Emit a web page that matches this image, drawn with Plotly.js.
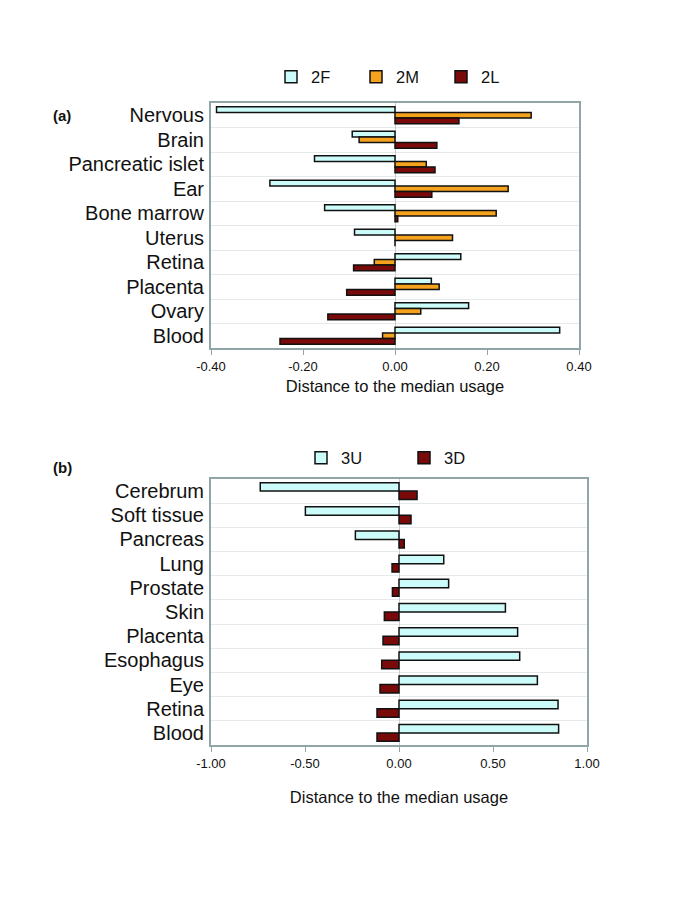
<!DOCTYPE html>
<html>
<head>
<meta charset="utf-8">
<script src="https://cdn.plot.ly/plotly-3.0.1.min.js"></script>
<style>
  body { margin: 0; background: #fff; }
  #chart { width: 685px; height: 912px; }
</style>
</head>
<body>
<div id="chart"></div>
<script>
// panel (a): tissues vs distance to median usage
const tissuesA = ['Nervous', 'Brain', 'Pancreatic islet', 'Ear', 'Bone marrow',
                  'Uterus', 'Retina', 'Placenta', 'Ovary', 'Blood'];
const vals2F = [-0.388, -0.093, -0.175, -0.272, -0.153, -0.088, 0.143, 0.079, 0.160, 0.358];
const vals2M = [0.296, -0.078, 0.068, 0.246, 0.220, 0.125, -0.045, 0.096, 0.056, -0.027];
const vals2L = [0.139, 0.091, 0.087, 0.080, 0.006, 0.000, -0.090, -0.105, -0.146, -0.250];

// panel (b)
const tissuesB = ['Cerebrum', 'Soft tissue', 'Pancreas', 'Lung', 'Prostate', 'Skin',
                  'Placenta', 'Esophagus', 'Eye', 'Retina', 'Blood'];
const vals3U = [-0.738, -0.498, -0.232, 0.238, 0.264, 0.566, 0.631, 0.642, 0.736, 0.846, 0.849];
const vals3D = [0.096, 0.064, 0.028, -0.037, -0.035, -0.078, -0.085, -0.092, -0.101, -0.117, -0.117];

const ticksA = [-0.4, -0.2, 0, 0.2, 0.4];
const ticksB = [-1, -0.5, 0, 0.5, 1];

const cyan = '#ccfcfa';
const orange = '#f5a21d';
const maroon = '#7a0a0a';
const frame = '#8fa5a8';

function bar(name, x, y, color, xa, ya, legend) {
    return {
        type: 'bar', orientation: 'h', name: name, x: x, y: y,
        xaxis: xa, yaxis: ya, legend: legend,
        marker: { color: color, line: { color: '#111', width: 1.5 } },
        hoverinfo: 'x+y'
    };
}

let data = [
    bar('2F', vals2F, tissuesA, cyan, 'x', 'y', 'legend'),
    bar('2M', vals2M, tissuesA, orange, 'x', 'y', 'legend'),
    bar('2L', vals2L, tissuesA, maroon, 'x', 'y', 'legend'),
    bar('3U', vals3U, tissuesB, cyan, 'x2', 'y2', 'legend2'),
    bar('3D', vals3D, tissuesB, maroon, 'x2', 'y2', 'legend2')
];

const W = 685, H = 912;
const font = { family: 'Liberation Sans, Arial, sans-serif', color: '#111' };

function xAxis(anchor, domain, range, ticks, standoff) {
    return {
        anchor: anchor, domain: domain, range: range,
        tickvals: ticks, ticktext: ticks.map(t => t.toFixed(2)),
        ticks: 'outside', ticklen: 5, tickcolor: frame,
        tickfont: { size: 13 },
        showline: true, linecolor: frame, linewidth: 2, mirror: true,
        showgrid: false,
        zeroline: true, zerolinecolor: '#c8cccc', zerolinewidth: 1,
        title: { text: 'Distance to the median usage', font: { size: 16.5 }, standoff: standoff }
    };
}

function yAxis(anchor, domain) {
    return {
        anchor: anchor, domain: domain, type: 'category',
        autorange: 'reversed',
        tickson: 'boundaries', ticks: '', ticklabelstandoff: 1,
        tickfont: { size: 20 },
        showline: true, linecolor: frame, linewidth: 2, mirror: true,
        showgrid: true, gridcolor: '#e6e9e9', gridwidth: 1
    };
}

let layout = {
    width: W, height: H,
    margin: { l: 0, r: 0, t: 0, b: 0 },
    paper_bgcolor: '#fff', plot_bgcolor: '#fff',
    font: font,
    barmode: 'group',
    bargap: 0.3,
    showlegend: true,
    xaxis: xAxis('y', [211 / W, 579 / W], [-0.4, 0.4], ticksA, 8),
    yaxis: yAxis('x', [1 - 348 / H, 1 - 103 / H]),
    xaxis2: xAxis('y2', [211 / W, 587 / W], [-1, 1], ticksB, 22),
    yaxis2: yAxis('x2', [1 - 745 / H, 1 - 479 / H]),
    legend: {
        orientation: 'h', x: 271 / W, y: 1 - 77 / H, xanchor: 'left', yanchor: 'middle',
        entrywidth: 40, entrywidthmode: 'pixels', font: { size: 16.5 }, traceorder: 'normal'
    },
    legend2: {
        orientation: 'h', x: 301 / W, y: 1 - 458 / H, xanchor: 'left', yanchor: 'middle',
        entrywidth: 58, entrywidthmode: 'pixels', font: { size: 16.5 }, traceorder: 'normal'
    },
    annotations: [
        { text: '<b>(a)</b>', xref: 'paper', yref: 'paper', x: 51 / W, y: 1 - 115 / H,
          xanchor: 'left', yanchor: 'middle', showarrow: false, font: { size: 15 } },
        { text: '<b>(b)</b>', xref: 'paper', yref: 'paper', x: 51 / W, y: 1 - 467 / H,
          xanchor: 'left', yanchor: 'middle', showarrow: false, font: { size: 15 } }
    ]
};

Plotly.newPlot('chart', data, layout, { displayModeBar: false, staticPlot: true });
</script>
</body>
</html>
